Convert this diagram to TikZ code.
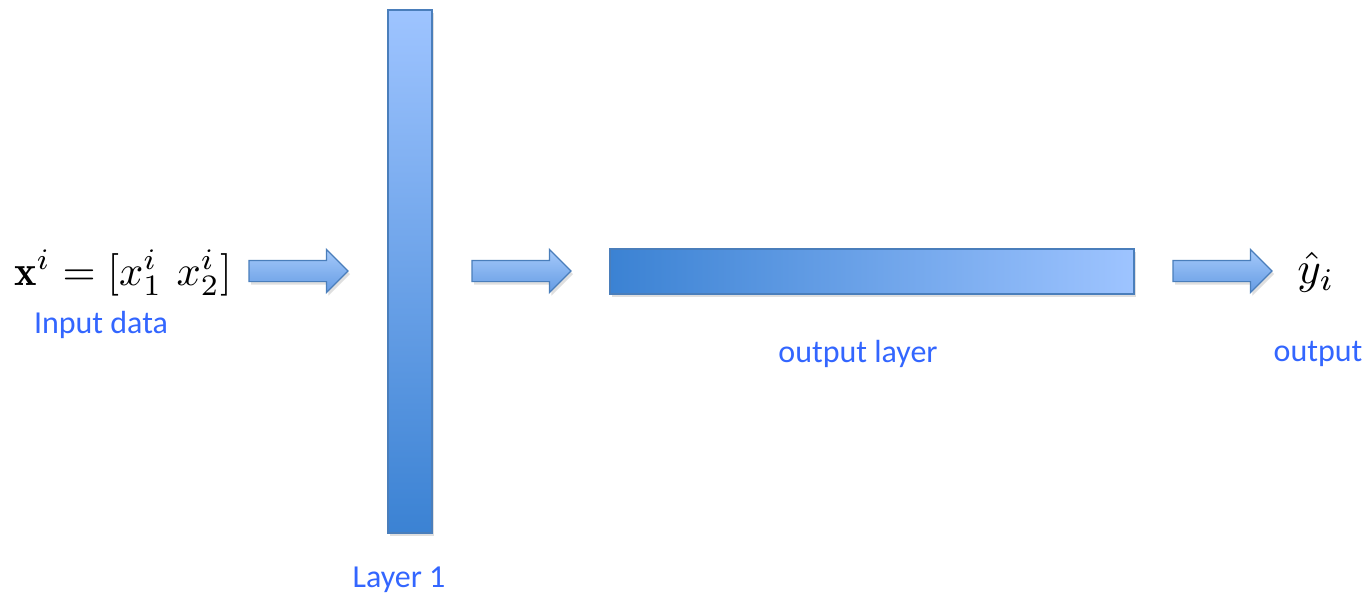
\documentclass[tikz,border=0pt]{standalone}
\usepackage{fontspec}
\newfontfamily\labelfont{Carlito}
\usetikzlibrary{shapes.arrows,shadows}
\definecolor{labelblue}{RGB}{51,102,255}
\definecolor{barlight}{RGB}{158,196,255}
\definecolor{bardark}{RGB}{59,130,211}
\definecolor{barline}{RGB}{74,126,187}
\definecolor{arrowtop}{RGB}{166,202,250}
\definecolor{arrowbot}{RGB}{100,155,228}
\tikzset{
  softshadow/.style={drop shadow={opacity=0.25,shadow xshift=2pt,shadow yshift=-3pt}},
  bar/.style={rectangle,draw=barline,line width=1.5pt,inner sep=0pt,outer sep=0pt,softshadow},
  blockarrow/.style={shape=single arrow,draw=barline,line width=1.2pt,
    top color=arrowtop,bottom color=arrowbot,inner sep=0pt,inner ysep=10pt,
    single arrow head extend=11pt,single arrow tip angle=90,
    minimum height=99pt,outer sep=0pt,anchor=tail,softshadow},
  caption/.style={font=\labelfont\fontsize{32}{37}\selectfont,text=labelblue,inner sep=0pt},
  formula/.style={inner sep=0pt}
}
\begin{document}
\begin{tikzpicture}[x=1pt,y=-1pt]
\useasboundingbox (0,0) rectangle (1368,598);

% input vector and its caption
\node[formula] (xin) at (123,273) {\scalebox{4.25}{$\mathbf{x}^i=[x^i_1\ x^i_2]$}};
\node[caption] (xcap) at (101,325) {Input data};

% hidden layer: tall bar, lighter at the top
\node[bar,top color=barlight,bottom color=bardark,
      minimum width=44pt,minimum height=523pt] (layer1) at (410,271.5) {};
\node[caption] (l1cap) at (399,580) {Layer 1};

% output layer: wide bar, darker on the left
\node[bar,left color=bardark,right color=barlight,
      minimum width=524pt,minimum height=45pt] (outlayer) at (872,271.5) {};
\node[caption] (olcap) at (858,354) {output layer};

% prediction
\node[formula] (yhat) at (1316,272) {\scalebox{4.5}{$\hat{y}_i$}};
\node[caption] (ycap) at (1318,354) {output};

% block arrows between the stages
\node[blockarrow] (a1) at (249,271) {};
\node[blockarrow] (a2) at (472,271) {};
\node[blockarrow] (a3) at (1173,271) {};
\end{tikzpicture}
\end{document}
